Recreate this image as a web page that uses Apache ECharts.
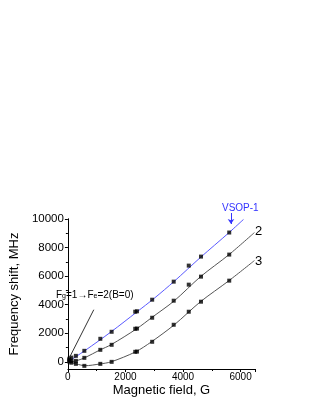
<!DOCTYPE html>
<html><head><meta charset="utf-8">
<script src="https://cdn.jsdelivr.net/npm/echarts@6/dist/echarts.min.js"></script>
<style>html,body{margin:0;padding:0;background:#fff}#c{width:312px;height:403px}</style>
</head><body><div id="c"></div>
<script>
// measured points (magnetic field in G)
var fieldB = [50, 120, 278, 572, 1127, 1520, 2340, 2400, 2928, 3676, 4199, 4624, 5605];
var vsop1 = [220, 300, 420, 772, 1614, 2105, 3510, 3540, 4351, 5614, 6737, 7368, 9053];
var shift2 = [120, 60, 70, 280, 842, 1193, 2316, 2330, 3088, 4281, 5404, 5965, 7509];
var shift3 = [20, -60, -140, -280, -140, 0, 702, 720, 1404, 2596, 3509, 4211, 5684];
// fitted curves
var fitB1 = [0, 600, 1500, 2400, 3000, 3700, 4600, 5600, 6100];
var fit1 = [0, 800, 2100, 3500, 4450, 5650, 7300, 9050, 9970];
var fitB2 = [0, 300, 600, 1100, 1500, 2400, 2900, 3700, 4600, 5600, 6480];
var fit2 = [0, 80, 300, 820, 1200, 2330, 3080, 4280, 5950, 7510, 9050];
var fitB3 = [0, 300, 600, 1100, 1500, 2350, 2900, 3700, 4600, 5600, 6480];
var fit3 = [0, -150, -270, -150, 0, 700, 1400, 2600, 4200, 5690, 7090];
var yMajor = [0, 2000, 4000, 6000, 8000, 10000];
var yMinor = [1000, 3000, 5000, 7000, 9000];

function pairs(xs, ys){ return xs.map(function(x,i){ return [x, ys[i]]; }); }
function plain(v){ return String(v); }
var FONT = 'Liberation Sans, Arial, sans-serif';
var chart = echarts.init(document.getElementById('c'));
var yBase = {
  type: 'value', min: -500, max: 10000, position: 'left',
  splitLine: {show: false},
  axisLine: {show: true, onZero: false, lineStyle: {color: '#000', width: 1}}
};
chart.setOption({
  animation: false,
  grid: {left: 53, right: 57, top: 219, bottom: 34},
  xAxis: {
    type: 'value', min: 0, max: 6500, interval: 2000,
    name: 'Magnetic field, G', nameLocation: 'middle', nameGap: 15,
    nameTextStyle: {fontFamily: FONT, fontSize: 13, color: '#000'},
    axisLine: {onZero: false, lineStyle: {color: '#000', width: 1}},
    axisTick: {show: true, length: 3, lineStyle: {color: '#000'}},
    minorTick: {show: true, splitNumber: 2, length: 2, lineStyle: {color: '#000'}},
    axisLabel: {fontFamily: FONT, fontSize: 10, color: '#000', margin: 3, formatter: plain},
    splitLine: {show: false}
  },
  yAxis: [
    Object.assign({}, yBase, {
      name: 'Frequency shift, MHz', nameLocation: 'middle', nameGap: 37,
      nameTextStyle: {fontFamily: FONT, fontSize: 13, color: '#000'},
      axisTick: {show: true, length: 3, customValues: yMajor, lineStyle: {color: '#000'}},
      axisLabel: {fontFamily: FONT, fontSize: 11.5, color: '#000', margin: 4, customValues: yMajor, formatter: plain}
    }),
    Object.assign({}, yBase, {
      axisTick: {show: true, length: 2, customValues: yMinor, lineStyle: {color: '#000'}},
      axisLabel: {show: false}
    })
  ],
  series: [
    {type: 'line', data: pairs(fitB1, fit1), smooth: 0.3, showSymbol: false, lineStyle: {color: '#5a5aff', width: 1}, z: 2},
    {type: 'line', data: pairs(fitB2, fit2), smooth: 0.3, showSymbol: false, lineStyle: {color: '#555', width: 1}, z: 2},
    {type: 'line', data: pairs(fitB3, fit3), smooth: 0.3, showSymbol: false, lineStyle: {color: '#555', width: 1}, z: 2,
      markLine: {silent: true, symbol: ['none', 'none'], label: {show: false},
        lineStyle: {color: '#333', width: 1, type: 'solid'},
        data: [[{coord: [900, 3650]}, {coord: [50, 280]}]]}},
    {type: 'scatter', data: pairs(fieldB, vsop1), symbol: 'rect', symbolSize: 4, itemStyle: {color: '#000'}, z: 3},
    {type: 'scatter', data: pairs(fieldB, shift2), symbol: 'rect', symbolSize: 4, itemStyle: {color: '#000'}, z: 3},
    {type: 'scatter', data: pairs(fieldB, shift3), symbol: 'rect', symbolSize: 4, itemStyle: {color: '#000'}, z: 3,
      markLine: {silent: true, symbol: ['none', 'arrow'], symbolSize: 5, label: {show: false},
        lineStyle: {color: '#3333ff', width: 1, type: 'solid'},
        data: [[{x: 231, y: 213}, {x: 231, y: 224}]]}}
  ],
  graphic: [
    {type: 'text', left: 222, top: 203, style: {text: 'VSOP-1', fill: '#3333ff', font: '10px ' + FONT}},
    {type: 'text', left: 255, top: 225, style: {text: '2', fill: '#000', font: '13px ' + FONT}},
    {type: 'text', left: 255, top: 255, style: {text: '3', fill: '#000', font: '13px ' + FONT}},
    {type: 'text', left: 56, top: 290, style: {
      text: '{m|F}{s|g}{m|=1→F}{s|e}{m|=2(B=0)}', fill: '#000',
      rich: {
        m: {fontSize: 10, fontFamily: FONT, fill: '#000', verticalAlign: 'bottom', lineHeight: 12},
        s: {fontSize: 7, fontFamily: FONT, fill: '#000', verticalAlign: 'bottom', lineHeight: 10}
      }
    }}
  ]
});
</script></body></html>
